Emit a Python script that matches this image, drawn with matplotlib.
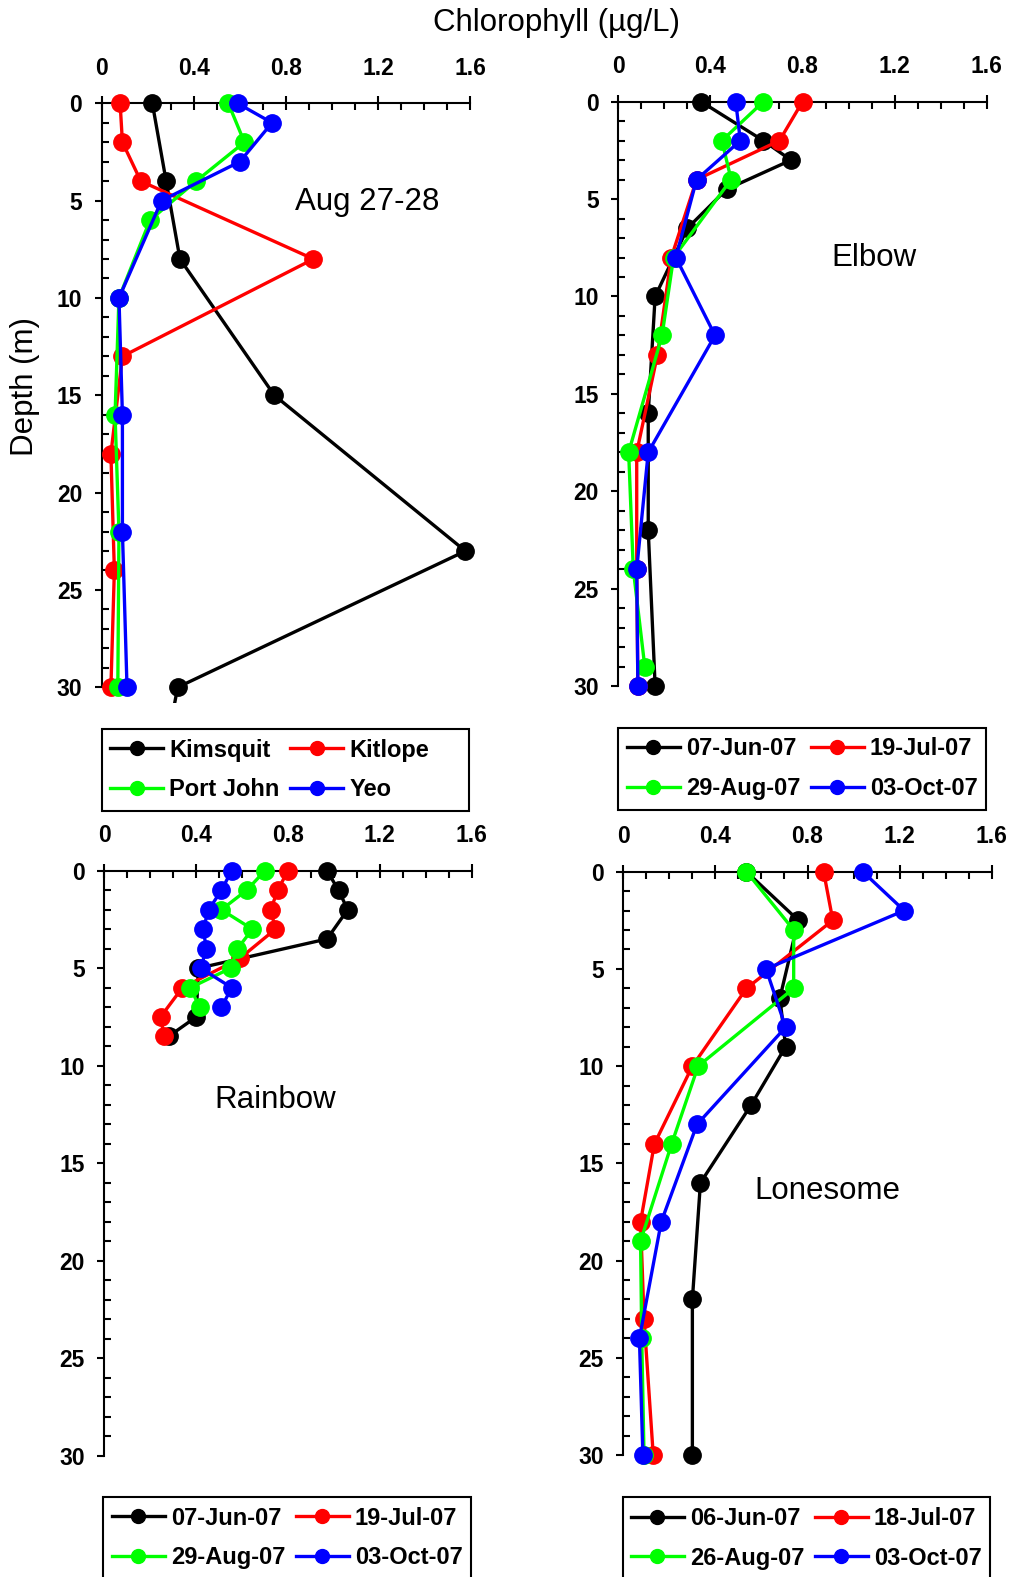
import numpy as np
import matplotlib
matplotlib.use('Agg')
import matplotlib.pyplot as plt
from matplotlib.ticker import MultipleLocator
from matplotlib.lines import Line2D
from matplotlib.patches import Rectangle

plt.rcParams['font.family'] = ['Liberation Sans', 'DejaVu Sans']

# ---- data (chlorophyll ug/L vs depth m) ----
# Aug 27-28
kim_d = [0, 4, 8, 15, 23, 30, 40]
kim_c = [0.22, 0.28, 0.34, 0.75, 1.58, 0.33, 0.17]
kit_d = [0, 2, 4, 8, 13, 18, 24, 30]
kit_c = [0.08, 0.09, 0.17, 0.92, 0.09, 0.04, 0.055, 0.04]
pj_d = [0, 2, 4, 6, 10, 16, 22, 30]
pj_c = [0.55, 0.62, 0.41, 0.21, 0.075, 0.058, 0.075, 0.07]
yeo_d = [0, 1, 3, 5, 10, 16, 22, 30]
yeo_c = [0.59, 0.74, 0.60, 0.26, 0.075, 0.09, 0.09, 0.11]

# Elbow
elb_jun_d = [0, 2, 3, 4.5, 6.5, 10, 16, 22, 30]
elb_jun_c = [0.36, 0.63, 0.75, 0.47, 0.30, 0.16, 0.13, 0.13, 0.16]
elb_jul_d = [0, 2, 4, 8, 13, 18, 24, 30]
elb_jul_c = [0.80, 0.70, 0.34, 0.23, 0.17, 0.08, 0.08, 0.085]
elb_aug_d = [0, 2, 4, 8, 12, 18, 24, 29]
elb_aug_c = [0.63, 0.45, 0.49, 0.24, 0.19, 0.045, 0.065, 0.115]
elb_oct_d = [0, 2, 4, 8, 12, 18, 24, 30]
elb_oct_c = [0.51, 0.53, 0.34, 0.25, 0.42, 0.13, 0.08, 0.085]

# Rainbow
rb_jun_d = [0, 1, 2, 3.5, 5, 7.5, 8.5]
rb_jun_c = [0.97, 1.02, 1.06, 0.97, 0.41, 0.40, 0.28]
rb_jul_d = [0, 1, 2, 3, 4.5, 6, 7.5, 8.5]
rb_jul_c = [0.80, 0.755, 0.725, 0.745, 0.59, 0.34, 0.245, 0.26]
rb_aug_d = [0, 1, 2, 3, 4, 5, 6, 7]
rb_aug_c = [0.70, 0.62, 0.51, 0.645, 0.58, 0.55, 0.375, 0.415]
rb_oct_d = [0, 1, 2, 3, 4, 5, 6, 7]
rb_oct_c = [0.555, 0.51, 0.455, 0.43, 0.445, 0.42, 0.555, 0.51]

# Lonesome
lo_jun_d = [0, 2.5, 6.5, 9, 12, 16, 22, 30]
lo_jun_c = [0.535, 0.76, 0.68, 0.705, 0.555, 0.335, 0.30, 0.30]
lo_jul_d = [0, 2.5, 6, 10, 14, 18, 23, 30]
lo_jul_c = [0.87, 0.91, 0.535, 0.30, 0.135, 0.075, 0.09, 0.13]
lo_aug_d = [0, 3, 6, 10, 14, 19, 24, 30]
lo_aug_c = [0.535, 0.74, 0.74, 0.325, 0.21, 0.075, 0.08, 0.09]
lo_oct_d = [0, 2, 5, 8, 13, 18, 24, 30]
lo_oct_c = [1.04, 1.22, 0.62, 0.705, 0.32, 0.165, 0.07, 0.085]

colors = ['black', '#ff0000', '#00ff00', '#0000ff']

W, H = 1013, 1577
fig = plt.figure(figsize=(W / 100, H / 100), dpi=100)

YMAX = 30.8


def make_axes(x0, x1, y0, y30):
    bottom = y0 + YMAX * (y30 - y0) / 30
    return fig.add_axes([x0 / W, 1 - bottom / H, (x1 - x0) / W, (bottom - y0) / H])


def style(ax):
    ax.set_xlim(0, 1.6)
    ax.set_ylim(YMAX, 0)
    ax.spines['right'].set_visible(False)
    ax.spines['bottom'].set_visible(False)
    ax.spines['left'].set_bounds(0, 30)
    for s in ('left', 'top'):
        ax.spines[s].set_linewidth(1.5)
    ax.xaxis.tick_top()
    ax.xaxis.set_minor_locator(MultipleLocator(0.1))
    ax.yaxis.set_major_locator(MultipleLocator(5))
    ax.yaxis.set_minor_locator(MultipleLocator(1))
    ax.set_xticks([0, 0.4, 0.8, 1.2, 1.6])
    ax.set_xticklabels(['0', '0.4', '0.8', '1.2', '1.6'])
    ax.tick_params(axis='x', which='major', direction='inout', length=9.5, width=1.5,
                   pad=12, labelsize=16.5)
    ax.tick_params(axis='x', which='minor', direction='in', length=5, width=1.5)
    ax.tick_params(axis='y', which='major', direction='out', length=5, width=1.5,
                   pad=9, labelsize=16.5)
    ax.tick_params(axis='y', which='minor', direction='in', length=5, width=1.5)
    for lab in ax.get_xticklabels() + ax.get_yticklabels():
        lab.set_fontweight('bold')


def draw(ax, series, labels, box, hx, rows):
    for i, (c, d) in enumerate(series):
        c = np.asarray(c)
        d = np.asarray(d)
        ax.plot(c, d, '-', color=colors[i], lw=2.4, zorder=3 + i)
        m = d <= 30
        ax.plot(c[m], d[m], 'o', color=colors[i], ms=12.5, mec=colors[i],
                clip_on=False, zorder=3 + i)
    handles = [Line2D([], [], color=colors[i], lw=2.4, marker='o', ms=10)
               for i in range(4)]
    # row-wise order: 1st row series 0,1 ; 2nd row series 2,3
    order = [0, 2, 1, 3]
    ymid = 1 - (rows[0] + rows[1]) / 2 / H
    ax.legend([handles[k] for k in order], [labels[k] for k in order],
              ncol=2, loc='center left', bbox_to_anchor=(hx / W, ymid),
              bbox_transform=fig.transFigure, borderaxespad=0, borderpad=0,
              prop={'weight': 'bold', 'size': 17}, handlelength=2.25,
              handletextpad=0.25, labelspacing=0.7, columnspacing=0.45,
              frameon=False)
    bx0, bx1, by0, by1 = box
    fig.add_artist(Rectangle((bx0 / W, 1 - by1 / H), (bx1 - bx0) / W, (by1 - by0) / H,
                             transform=fig.transFigure, fill=False,
                             edgecolor='black', lw=1.5))


ax1 = make_axes(101.7, 470, 103.3, 687.3)
style(ax1)
draw(ax1, [(kim_c, kim_d), (kit_c, kit_d), (pj_c, pj_d), (yeo_c, yeo_d)],
     ['Kimsquit', 'Kitlope', 'Port John', 'Yeo'],
     (101.7, 469, 729, 811), 110, (750, 790))

ax2 = make_axes(618.3, 986.7, 101.7, 686)
style(ax2)
draw(ax2, [(elb_jun_c, elb_jun_d), (elb_jul_c, elb_jul_d),
           (elb_aug_c, elb_aug_d), (elb_oct_c, elb_oct_d)],
     ['07-Jun-07', '19-Jul-07', '29-Aug-07', '03-Oct-07'],
     (618, 985.7, 727.7, 810), 626.7, (748.3, 789))

ax3 = make_axes(104.3, 471.7, 870.7, 1455.7)
style(ax3)
draw(ax3, [(rb_jun_c, rb_jun_d), (rb_jul_c, rb_jul_d),
           (rb_aug_c, rb_aug_d), (rb_oct_c, rb_oct_d)],
     ['07-Jun-07', '19-Jul-07', '29-Aug-07', '03-Oct-07'],
     (103.3, 471, 1497, 1600), 111.7, (1518.7, 1557))

ax4 = make_axes(623.3, 991.7, 871.7, 1455)
style(ax4)
draw(ax4, [(lo_jun_c, lo_jun_d), (lo_jul_c, lo_jul_d),
           (lo_aug_c, lo_aug_d), (lo_oct_c, lo_oct_d)],
     ['06-Jun-07', '18-Jul-07', '26-Aug-07', '03-Oct-07'],
     (622.7, 990, 1497, 1600), 630.7, (1519.7, 1557))


def ftext(x, y, s, **kw):
    fig.text(x / W, 1 - y / H, s, ha='center', va='center', fontsize=22.5, **kw)


ftext(556, 23, 'Chlorophyll (µg/L)')
ftext(25, 387, 'Depth (m)', rotation=90)
ftext(367, 202, 'Aug 27-28')
ftext(874, 258, 'Elbow')
ftext(275, 1100, 'Rainbow')
ftext(827, 1191, 'Lonesome')

fig.savefig('out.png', dpi=100)
